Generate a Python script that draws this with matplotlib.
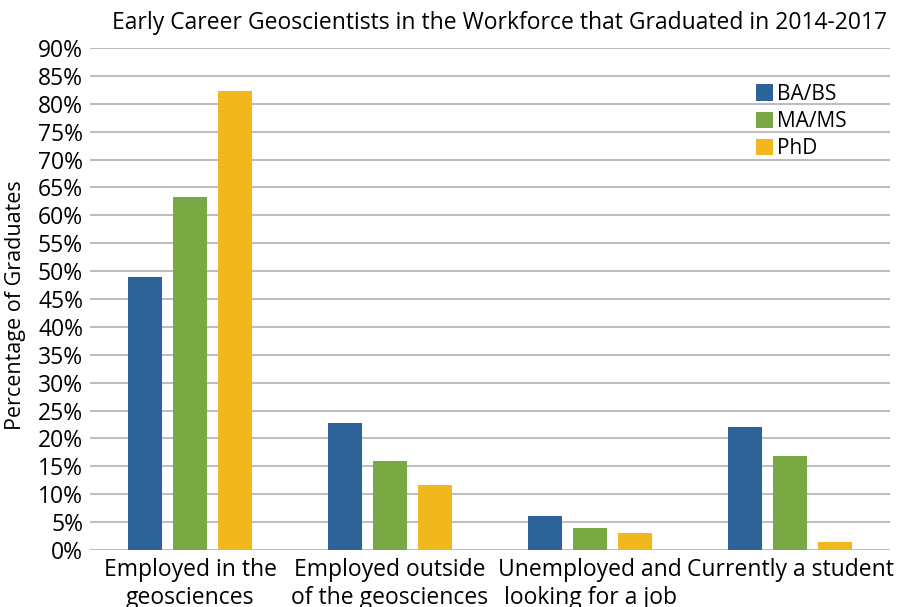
import matplotlib
matplotlib.use("Agg")
import matplotlib.pyplot as plt
import numpy as np

categories = ["Employed in the\ngeosciences", "Employed outside\nof the geosciences",
              "Unemployed and\nlooking for a job", "Currently a student"]
ba_bs = [49.0, 22.8, 6.1, 22.1]
ma_ms = [63.3, 16.0, 3.9, 16.9]
phd = [82.3, 11.7, 3.0, 1.4]
series_names = ["BA/BS", "MA/MS", "PhD"]
colors = ["#2e6399", "#78a943", "#f1b71c"]

plt.rcParams['font.family'] = ['Open Sans', 'DejaVu Sans']

fig = plt.figure(figsize=(9.02, 6.07), dpi=100)
ax = fig.add_axes([90 / 902, 1 - 550 / 607, 800 / 902, 502 / 607])

x = np.arange(len(categories))
width = 0.17
step = 0.225
for i, (vals, name, c) in enumerate(zip([ba_bs, ma_ms, phd], series_names, colors)):
    ax.bar(x + (i - 1) * step, vals, width, color=c, label=name, zorder=3)

ax.set_xlim(-0.5, 3.5)
ax.set_ylim(0, 90)
ax.set_yticks(np.arange(0, 91, 5))
ax.set_yticklabels([f"{v}%" for v in range(0, 91, 5)], fontsize=16.5)
ax.set_xticks(x)
ax.set_xticklabels(categories, fontsize=16.5, linespacing=1.22)
ax.tick_params(axis='both', length=0)
ax.tick_params(axis='y', pad=5)
ax.tick_params(axis='x', pad=6)
ax.grid(axis='y', color='#bdbdc2', linewidth=1.5, zorder=0)
for s in ax.spines.values():
    s.set_visible(False)

ax.set_ylabel("Percentage of Graduates", fontsize=15.5)
ax.yaxis.set_label_coords(-0.08, 0.488)
fig.text(500 / 902, 1 - 23 / 607, "Early Career Geoscientists in the Workforce that Graduated in 2014-2017",
         ha='center', va='center', fontsize=16.5)

ax.legend(loc='upper left', bbox_to_anchor=(0.8325, 0.929), frameon=False, fontsize=15,
          handlelength=0.82, handleheight=0.82, handletextpad=0.2, labelspacing=0.3,
          borderaxespad=0, borderpad=0)

fig.savefig("out.png", dpi=100)
